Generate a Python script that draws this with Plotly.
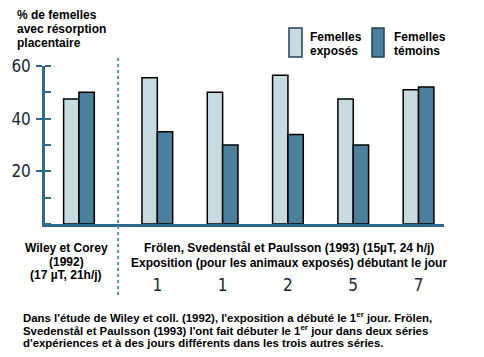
import plotly.graph_objects as go

# ---- data ----
groups = ["Wiley et Corey (1992)", "Frölen 1", "Frölen 1b", "Frölen 2", "Frölen 5", "Frölen 7"]
day_labels = ["1", "1", "2", "5", "7"]
exposes = [47.5, 55.5, 50, 56.5, 47.5, 51]
temoins = [50, 35, 30, 34, 30, 52]
y_ticks = [20, 40, 60]

# ---- layout helpers (window pixel coords; body has 8px margin) ----
OFF = 8
WIN_W, WIN_H = 484, 357
W, H = WIN_W - OFF, WIN_H - OFF
PL, PR, PT, PB = 45, 444, 66, 224   # plot area in window pixels
ML, MT = PL - OFF, PT - OFF
MR, MB = WIN_W - PR, WIN_H - PB
PW, PH = PR - PL, PB - PT
def px_x(px):
    return (px - PL) / PW
def px_y(py):
    return (PB - py) / PH

positions = [0.0] + [1.2 + k for k in range(len(groups) - 1)]
bw = 0.235
axis_col = "#2e6a8c"
light = "#c8dbe1"
dark = "#4a809e"
txt_font = dict(family="Liberation Sans, Arial, sans-serif", size=12, color="black", weight="bold")
foot_font = dict(family="Liberation Sans, Arial, sans-serif", size=11.4, color="black", weight="bold")
num_font = dict(family="DejaVu Sans Condensed, Liberation Sans Narrow, sans-serif", size=17, color="#1a2633")

fig = go.Figure()
fig.add_trace(go.Bar(x=positions, y=exposes, width=bw, offset=-bw,
                     marker=dict(color=light, line=dict(color="black", width=1.5)),
                     name="Femelles exposés", showlegend=False))
fig.add_trace(go.Bar(x=positions, y=temoins, width=bw, offset=0,
                     marker=dict(color=dark, line=dict(color="black", width=1.5)),
                     name="Femelles témoins", showlegend=False))

fig.update_layout(
    width=W, height=H, margin=dict(l=ML, r=MR, t=MT, b=MB, autoexpand=False),
    plot_bgcolor="white", paper_bgcolor="white", barmode="overlay",
    xaxis=dict(range=[-0.52, 5.59], showline=True, linecolor=axis_col, linewidth=2.5,
               showgrid=False, zeroline=False, ticks="",
               tickvals=positions[1:], ticktext=day_labels, tickfont=num_font,
               ticklabelstandoff=44),
    yaxis=dict(range=[0, 60], showline=True, linecolor=axis_col, linewidth=2.5,
               showgrid=False, zeroline=False, ticks="outside", ticklen=6, tickwidth=1.5,
               tickcolor=axis_col, tickvals=y_ticks, tickfont=num_font, ticklabelstandoff=2,
               minor=dict(ticks="inside", ticklen=6, tickwidth=1.5, tickcolor=axis_col, dtick=10)),
)

# divider dotted line
mid = (positions[0] + positions[1]) / 2
fig.add_shape(type="line", xref="x", yref="paper", x0=mid, x1=mid, y0=px_y(58), y1=px_y(296),
              line=dict(color="#5b8fb0", width=2, dash="dot"))

# legend boxes
fig.add_shape(type="rect", xref="paper", yref="paper", x0=px_x(289), x1=px_x(302),
              y0=px_y(57), y1=px_y(28), fillcolor=light, line=dict(color="#1d4458", width=1.5))
fig.add_shape(type="rect", xref="paper", yref="paper", x0=px_x(372), x1=px_x(384),
              y0=px_y(57), y1=px_y(28), fillcolor=dark, line=dict(color="#1d4458", width=1.5))

def line_at(text, x, y, xanchor="left", font=txt_font):
    fig.add_annotation(text=text, xref="paper", yref="paper", x=px_x(x), y=px_y(y),
                       xanchor=xanchor, yanchor="middle", showarrow=False, font=font)

def lines(texts, x, y0, step, xanchor="left", font=txt_font):
    for i, t in enumerate(texts):
        line_at(t, x, y0 + i * step, xanchor, font)

lines(["Femelles", "exposés"], 308, 37, 14)
lines(["Femelles", "témoins"], 392, 37, 14)
lines(["% de femelles", "avec résorption", "placentaire"], 15, 15, 14)
lines(["Wiley et Corey", "(1992)", "(17 µT, 21h/j)"], 66, 248, 13.5, xanchor="center")
lines(["Frölen, Svedenstål et Paulsson (1993) (15µT, 24 h/j)",
       "Exposition (pour les animaux exposés) débutant le jour"], 289, 248, 14.5, xanchor="center")
line_at("Dans l'étude de Wiley et coll. (1992), l'exposition a débuté le 1<sup>er</sup> jour. Frölen,",
        21, 316.5, font=foot_font)
line_at("Svedenstål et Paulsson (1993) l'ont fait débuter le 1<sup>er</sup> jour dans deux séries",
        21, 330, font=foot_font)
line_at("d'expériences et à des jours différents dans les trois autres séries.",
        21, 342.5, font=foot_font)

fig.write_html("out.html")
